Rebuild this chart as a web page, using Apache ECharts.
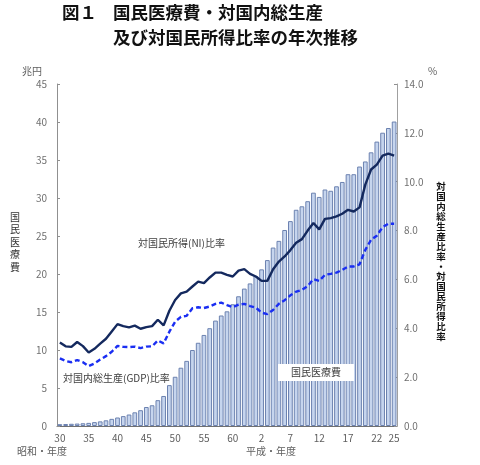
<!DOCTYPE html>
<html><head><meta charset="utf-8">
<script src="https://cdn.jsdelivr.net/npm/echarts@6/dist/echarts.min.js"></script>
<style>html,body{margin:0;padding:0;background:#fff}#c{width:480px;height:465px}</style>
</head><body><div id="c"></div>
<script>
// Categories: Showa 30-63, Heisei 1-25
const showaYears = ['30','31','32','33','34','35','36','37','38','39','40','41','42','43','44','45','46','47','48','49','50','51','52','53','54','55','56','57','58','59','60','61','62','63'];
const heiseiYears = ['1','2','3','4','5','6','7','8','9','10','11','12','13','14','15','16','17','18','19','20','21','22','23','24','25'];
const categories = showaYears.map(y => 'S' + y).concat(heiseiYears.map(y => 'H' + y));
const shownLabels = ['S30','S35','S40','S45','S50','S55','S60','H2','H7','H12','H17','H22','H25'];

// 国民医療費 (兆円)
const medicalCost = [
  0.24,0.26,0.29,0.32,0.36,0.41,0.51,0.61,0.75,0.94,
  1.12,1.30,1.51,1.80,2.08,2.50,2.73,3.40,3.95,5.38,
  6.48,7.67,8.57,10.00,10.95,11.98,12.87,13.87,14.54,15.09,
  16.02,17.07,18.08,18.76,
  19.73,20.61,21.83,23.48,24.36,25.79,26.96,28.45,28.91,29.58,
  30.70,30.14,31.12,30.95,31.54,32.11,33.13,33.13,34.14,34.81,
  36.01,37.42,38.59,39.21,40.06
];
// 対国民所得(NI)比率 (%)
const niRatio = [
  3.42,3.26,3.24,3.44,3.27,3.01,3.16,3.37,3.57,3.87,
  4.17,4.09,4.04,4.11,3.98,4.05,4.09,4.35,4.12,4.72,
  5.16,5.43,5.50,5.71,5.91,5.85,6.08,6.28,6.28,6.19,
  6.12,6.36,6.42,6.23,
  6.12,5.94,5.94,6.42,6.73,6.94,7.20,7.50,7.65,8.00,
  8.31,8.05,8.48,8.51,8.58,8.69,8.85,8.78,8.95,9.88,
  10.50,10.70,11.07,11.15,11.07
];
// 対国内総生産(GDP)比率 (%)
const gdpRatio = [
  2.77,2.66,2.61,2.70,2.61,2.45,2.56,2.72,2.86,3.04,
  3.28,3.24,3.23,3.25,3.19,3.25,3.26,3.50,3.38,3.86,
  4.27,4.47,4.51,4.82,4.86,4.83,4.89,5.00,5.05,4.95,
  4.86,4.97,5.00,4.91,
  4.85,4.64,4.58,4.75,5.00,5.15,5.35,5.50,5.57,5.73,
  6.01,5.94,6.19,6.23,6.28,6.39,6.53,6.53,6.62,7.21,
  7.62,7.79,8.14,8.28,8.28
];

const FONT = '"Noto Sans CJK JP", sans-serif';
const chart = echarts.init(document.getElementById('c'), null, {renderer: 'canvas'});
const vtext = s => s.split('').join('\n');

chart.setOption({
  animation: false,
  textStyle: {fontFamily: FONT},
  grid: {left: 57, right: 83, top: 84, bottom: 39},
  xAxis: {
    type: 'category', data: categories, boundaryGap: true,
    axisLine: {lineStyle: {color: '#707070', width: 1}},
    axisTick: {show: false},
    axisLabel: {
      interval: (i, v) => shownLabels.includes(v),
      formatter: v => v.slice(1),
      color: '#606060', fontSize: 10, margin: 7, fontFamily: FONT
    }
  },
  yAxis: [
    {type: 'value', min: 0, max: 45, interval: 5,
     axisLine: {show: true, lineStyle: {color: '#909090'}},
     axisTick: {show: true, inside: true, length: 3, lineStyle: {color: '#909090'}},
     axisLabel: {color: '#707070', fontSize: 10, margin: 10, fontFamily: FONT},
     splitLine: {show: false}},
    {type: 'value', min: 0, max: 14, interval: 2,
     axisLine: {show: true, lineStyle: {color: '#a0a0a0'}},
     axisTick: {show: true, inside: true, length: 3, lineStyle: {color: '#909090'}},
     axisLabel: {color: '#707070', fontSize: 10, margin: 7, fontFamily: FONT,
                 formatter: v => v.toFixed(1)},
     splitLine: {show: false}}
  ],
  series: [
    {name: '国民医療費', type: 'bar', yAxisIndex: 0, data: medicalCost,
     barCategoryGap: '18%',
     itemStyle: {color: '#c6d5ee', borderColor: '#6c82b0', borderWidth: 1}},
    {name: '対国民所得(NI)比率', type: 'line', yAxisIndex: 1, data: niRatio,
     symbol: 'none', smooth: false,
     lineStyle: {color: '#14295e', width: 2.4}},
    {name: '対国内総生産(GDP)比率', type: 'line', yAxisIndex: 1, data: gdpRatio,
     symbol: 'none', smooth: false,
     lineStyle: {color: '#1a2ef2', width: 2.4, type: [5, 3]}}
  ],
  graphic: [
    {type: 'text', left: 62, top: 4, style: {text: '図１', font: 'bold 17.5px ' + FONT, fill: '#111'}},
    {type: 'text', left: 113, top: 4, style: {text: '国民医療費・対国内総生産', font: 'bold 17.5px ' + FONT, fill: '#111'}},
    {type: 'text', left: 113, top: 29, style: {text: '及び対国民所得比率の年次推移', font: 'bold 17.5px ' + FONT, fill: '#111'}},
    {type: 'text', left: 22, top: 66, style: {text: '兆円', font: '10px ' + FONT, fill: '#606060'}},
    {type: 'text', left: 428, top: 66, style: {text: '%', font: '10px ' + FONT, fill: '#606060'}},
    {type: 'text', x: 15, y: 211, style: {text: vtext('国民医療費'), font: '10px ' + FONT, fill: '#333', align: 'center', lineHeight: 12.4}},
    {type: 'text', x: 441, y: 181, style: {text: vtext('対国内総生産比率・対国民所得比率'), font: 'bold 9.5px ' + FONT, fill: '#111', align: 'center', lineHeight: 10}},
    {type: 'text', left: 17, top: 446, style: {text: '昭和・年度', font: '10px ' + FONT, fill: '#606060'}},
    {type: 'text', left: 246, top: 446, style: {text: '平成・年度', font: '10px ' + FONT, fill: '#606060'}},
    {type: 'text', left: 138, top: 238, style: {text: '対国民所得(NI)比率', font: '10px ' + FONT, fill: '#404040'}},
    {type: 'text', left: 63, top: 373, style: {text: '対国内総生産(GDP)比率', font: '10px ' + FONT, fill: '#404040'}},
    {type: 'rect', shape: {x: 278, y: 364, width: 76, height: 17}, style: {fill: '#ffffff'}, z: 100},
    {type: 'text', x: 316, y: 372.5, z: 101, style: {text: '国民医療費', font: '10px ' + FONT, fill: '#404040', align: 'center', verticalAlign: 'middle'}}
  ]
});
</script></body></html>
